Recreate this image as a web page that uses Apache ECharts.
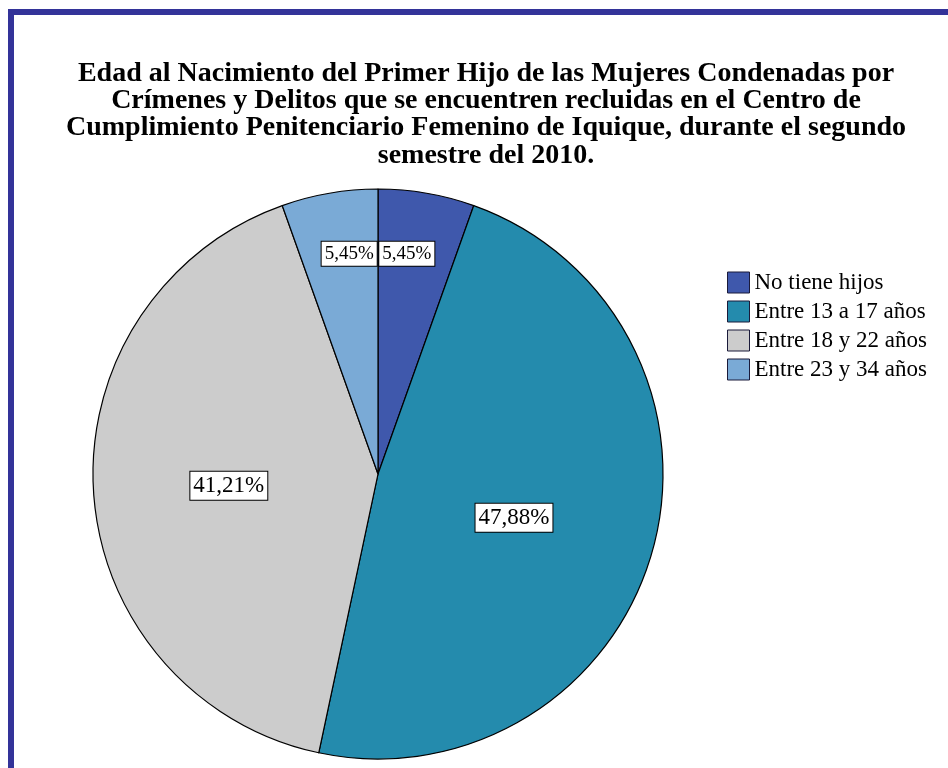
<!DOCTYPE html>
<html>
<head>
<meta charset="utf-8">
<script src="https://cdn.jsdelivr.net/npm/echarts@6/dist/echarts.min.js"></script>
<style>
html,body{margin:0;padding:0;background:#fff;overflow:hidden;}
#frame{
  position:absolute;
  left:8px;
  top:9px;
  width:1200px;
  height:1200px;
  border-top:6px solid #333399;
  border-left:6px solid #333399;
}
#main{
  position:absolute;
  left:0;
  top:0;
  width:948px;
  height:768px;
}
</style>
</head>
<body>
<div id="frame"></div>
<div id="main"></div>
<script>
// categorias y frecuencias (n = 165)
var categorias = ['No tiene hijos', 'Entre 13 a 17 años', 'Entre 18 y 22 años', 'Entre 23 y 34 años'];
var frecuencias = [9, 79, 68, 9];
var colores = ['#3f58ac', '#248bad', '#cccccc', '#7aaad6'];

// ajuste fino de etiquetas (px)
var labelShift = [[4, -77], [-4, 4], [-4, 2], [-4, -77]];
var labelSize = [19, 23, 23, 19];

var total = frecuencias.reduce(function (a, b) { return a + b; }, 0);

var chart = echarts.init(document.getElementById('main'));

var datos = categorias.map(function (c, i) {
  return {
    name: c,
    value: frecuencias[i],
    itemStyle: { color: colores[i] },
    label: { fontSize: labelSize[i] }
  };
});

var option = {
  animation: false,
  backgroundColor: 'transparent',
  title: {
    text: 'Edad al Nacimiento del Primer Hijo de las Mujeres Condenadas por\nCrímenes y Delitos que se encuentren recluidas en el Centro de\nCumplimiento Penitenciario Femenino de Iquique, durante el segundo\nsemestre del 2010.',
    left: 486,
    top: 60,
    padding: 0,
    textAlign: 'center',
    textStyle: {
      fontFamily: 'Liberation Serif',
      fontWeight: 'bold',
      fontSize: 28,
      lineHeight: 27.3,
      color: '#000'
    }
  },
  legend: {
    orient: 'vertical',
    left: 727,
    top: 271,
    padding: 0,
    icon: 'rect',
    itemWidth: 22,
    itemHeight: 21,
    itemGap: 6,
    data: categorias,
    textStyle: {
      fontFamily: 'Liberation Serif',
      fontSize: 23,
      lineHeight: 21,
      color: '#000',
      padding: [0, 0, 0, 0]
    },
    itemStyle: { borderColor: '#1a1a3a', borderWidth: 1 }
  },
  series: [{
    name: 'Edad',
    type: 'pie',
    center: [378, 474],
    radius: 285,
    startAngle: 90,
    clockwise: true,
    silent: true,
    itemStyle: { borderColor: '#000', borderWidth: 1.2 },
    label: {
      show: true,
      position: 'inside',
      formatter: function (p) {
        return (p.value / total * 100).toFixed(2).replace('.', ',') + '%';
      },
      fontFamily: 'Liberation Serif',
      color: '#000',
      backgroundColor: '#fff',
      borderColor: '#000',
      borderWidth: 1,
      padding: [3, 3, 2, 3]
    },
    labelLine: { show: false },
    labelLayout: function (params) {
      var s = labelShift[params.dataIndex];
      return { dx: s[0], dy: s[1] };
    },
    data: datos
  }]
};

chart.setOption(option);
</script>
</body>
</html>
